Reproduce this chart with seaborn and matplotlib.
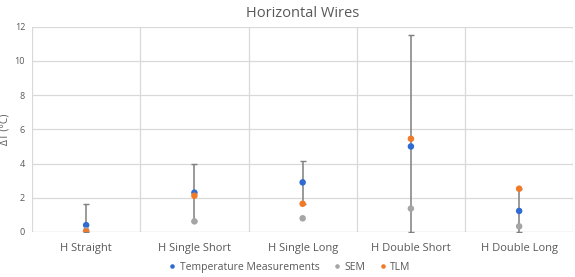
import matplotlib
matplotlib.use("Agg")
import matplotlib.pyplot as plt
import seaborn as sns
import pandas as pd
import numpy as np

categories = ["H Straight", "H Single Short", "H Single Long", "H Double Short", "H Double Long"]
temp_meas = [0.40, 2.30, 2.90, 5.00, 1.23]
temp_err = [1.25, 1.67, 1.25, 6.50, 1.30]
sem_vals = [0.10, 0.62, 0.80, 1.37, 0.33]
tlm_vals = [0.02, 2.12, 1.65, 5.45, 2.53]
series_names = ["Temperature Measurements", "SEM", "TLM"]
colors = ["#2F6BD0", "#A5A5A5", "#F07A2A"]

sns.set_theme(style="white")
plt.rcParams['font.family'] = ['Open Sans', 'DejaVu Sans']

df = pd.DataFrame({
    "cat": categories * 3,
    "val": temp_meas + sem_vals + tlm_vals,
    "series": [s for s in series_names for _ in categories],
})

fig = plt.figure(figsize=(5.75, 2.77), dpi=100)
ax = fig.add_axes([0.0557, 0.1625, 0.9413, 0.7411])

xpos = np.arange(len(categories))
lo = np.minimum(np.array(temp_err), np.array(temp_meas))
ax.errorbar(xpos, temp_meas, yerr=[lo, temp_err], fmt="none",
            ecolor="#7F7F7F", elinewidth=1.1, capsize=2.2, capthick=1.0, zorder=2)

sns.scatterplot(data=df, x="cat", y="val", hue="series", palette=colors,
                hue_order=series_names, s=22, edgecolor="none", linewidth=0,
                ax=ax, zorder=3, legend=True)

ax.set_xlim(-0.5, len(categories) - 0.5)
ax.set_ylim(0, 12)
ax.set_yticks(range(0, 13, 2))
ax.set_xticks(xpos)
ax.set_xticklabels(categories)
ax.set_xlabel("")
ax.set_ylabel("ΔT (°C)", fontsize=7.5, color="#595959")
ax.yaxis.set_label_coords(-0.04, 0.5)
ax.tick_params(axis="y", labelsize=6.5, colors="#595959", length=0, pad=5)
ax.tick_params(axis="x", labelsize=8, colors="#595959", length=0, pad=8)

for y in range(2, 13, 2):
    ax.axhline(y, color="#D9D9D9", lw=0.9, zorder=0)
for xb in np.arange(-0.5, len(categories), 1.0):
    ax.axvline(xb, color="#D9D9D9", lw=0.9, zorder=0)
for sp in ax.spines.values():
    sp.set_visible(False)
ax.axhline(0, color="#BFBFBF", lw=0.9, zorder=1)

ax.set_title("Horizontal Wires", fontsize=10.5, color="#595959", pad=7)

handles, labels = ax.get_legend_handles_labels()
ax.legend(handles, labels, loc="center", bbox_to_anchor=(0.5, 0.036),
          bbox_transform=fig.transFigure,
          ncol=3, frameon=False, fontsize=7.5, labelcolor="#595959",
          handletextpad=0.0, columnspacing=0.9, markerscale=0.7,
          handlelength=1.5, borderpad=0.1)

fig.savefig("out.png", dpi=100)
